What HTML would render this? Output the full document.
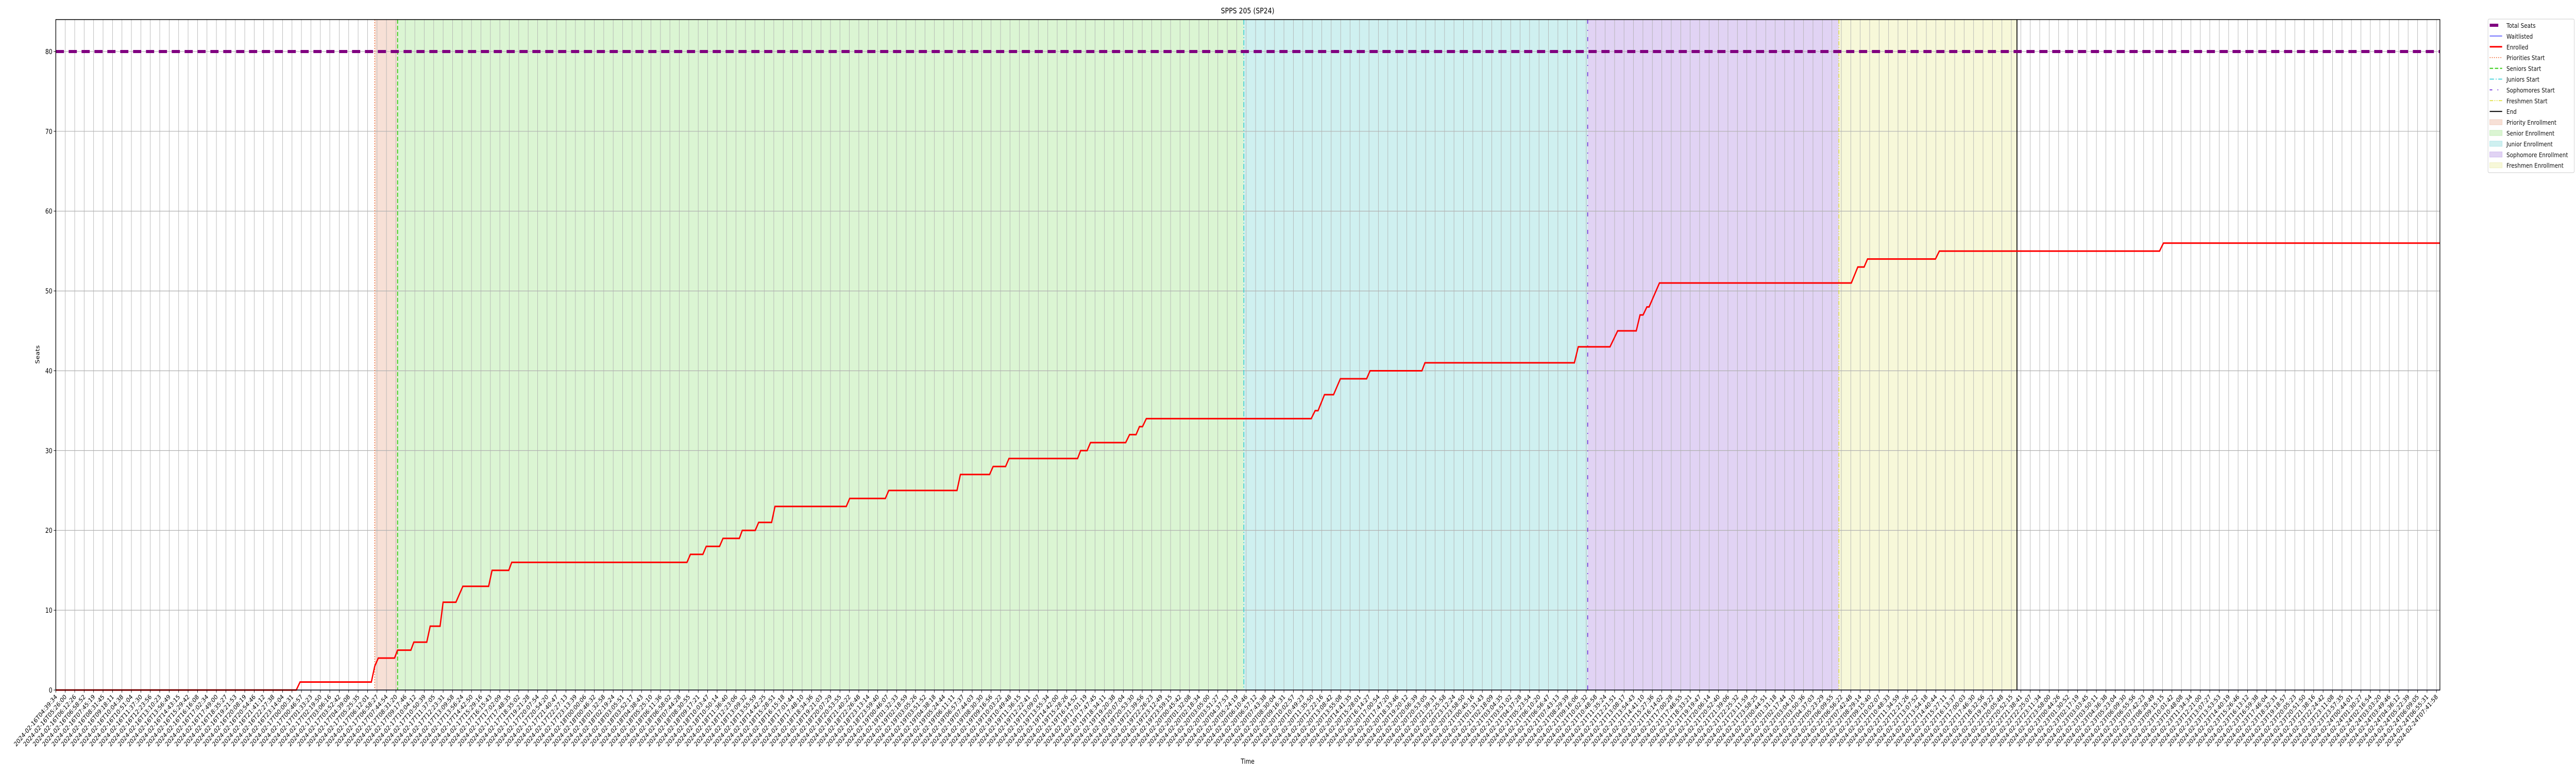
<!DOCTYPE html>
<html><head><meta charset="utf-8"><style>
html,body{margin:0;padding:0;background:#fff;width:100%;height:100%;overflow:hidden;}
svg{display:block;position:absolute;left:0;top:0;width:100vw;height:100vh;font-family:"DejaVu Sans","Liberation Sans",sans-serif;overflow:hidden;}
</style></head><body>
<svg id="chart" viewBox="0 0 6000 1500" preserveAspectRatio="none" xmlns="http://www.w3.org/2000/svg">
<rect width="6000" height="1500" fill="#fff"/>
<g id="bands"></g><g id="grid"></g><g id="events"></g><g id="series"></g><g id="axes"></g>
<text x="2906" y="26" text-anchor="middle" font-size="15">SPPS 205 (SP24)</text>
<text x="2906" y="1482" text-anchor="middle" font-size="13">Time</text>
<text x="92" y="688" text-anchor="middle" font-size="13" transform="rotate(-90 92 688)">Seats</text>
<g id="legend"></g>
</svg>
<script>
// ---- data (x in hours since 2024-02-16T04:39:34) ----
const enrolledT = [0,19.70,20.01,25.85,26.13,26.42,27.75,28.00,29.09,29.33,30.39,30.67,31.48,31.73,32.78,33.35,35.46,35.74,37.11,37.35,51.71,51.99,53.01,53.29,54.38,54.66,56.00,56.24,57.30,57.58,58.64,58.92,64.76,65.04,67.96,68.24,73.83,74.11,76.50,76.79,77.81,78.09,83.71,83.96,84.49,84.77,87.65,87.97,88.50,88.78,89.03,89.34,102.85,103.17,103.41,103.94,104.68,105.24,107.39,107.67,111.92,112.17,124.41,124.73,127.33,127.96,129.48,129.79,130.04,130.35,130.53,131.38,147.10,147.63,148.15,148.43,153.99,154.31,172.35,172.67,195.32];
const enrolledV = [0,0,1,1,3,4,4,5,5,6,6,8,8,11,11,13,13,15,15,16,16,17,17,18,18,19,19,20,20,21,21,23,23,24,24,25,25,27,27,28,28,29,29,30,30,31,31,32,32,33,33,34,34,35,35,37,37,39,39,40,40,41,41,43,43,45,45,47,47,48,48,51,51,53,53,54,54,55,55,56,56];
const totalSeats = 80;
const waitlisted = 0;
const eventNames = ["Priorities Start","Seniors Start","Juniors Start","Sophomores Start","Freshmen Start","End"];
const eventTimes = [26.13,28.00,97.33,125.50,146.08,160.67];
const yTicks = [0,10,20,30,40,50,60,70,80];
const tickStart = "2024-02-16T04:39:34";
const tickCount = 253;
const tickSpanHours = 195.04;
const xMaxHours = 195.32;
const yMax = 84;

// ---- scales ----
const L=130,R=5683,T=38,B=1339;
const X=h=>L+h/xMaxHours*(R-L);
const Y=v=>B-v/yMax*(B-T);
const NS="http://www.w3.org/2000/svg";
function mk(tag,attrs,parent){const e=document.createElementNS(NS,tag);for(const k in attrs)e.setAttribute(k,attrs[k]);parent.appendChild(e);return e;}
const bands=document.getElementById('bands'),grid=document.getElementById('grid'),ev=document.getElementById('events'),ser=document.getElementById('series'),ax=document.getElementById('axes'),lg=document.getElementById('legend');

// bands
const bandCols=["#f7e0d6","#dbf5d3","#cff0f0","#e1d3f4","#f7f8d9"];
const bandNames=["priority-band","senior-band","junior-band","sophomore-band","freshmen-band"];
for(let i=0;i<5;i++){
  const r=mk('rect',{x:X(eventTimes[i]),y:T,width:X(eventTimes[i+1])-X(eventTimes[i]),height:B-T,fill:bandCols[i]},bands);
  
  
}

// ticks
const t0=new Date(tickStart+"Z").getTime();
const pad=n=>String(n).padStart(2,'0');
for(let i=0;i<tickCount;i++){
  const h=i*tickSpanHours/(tickCount-1);
  const x=X(h);
  const gl=mk('line',{x1:x,x2:x,y1:T,y2:B,stroke:"#b0b0b0","stroke-width":1},grid);
  
  
  mk('line',{x1:x,x2:x,y1:B,y2:B+5,stroke:"#000","stroke-width":1},ax);
  const d=new Date(t0+h*3600000);
  const s=d.getUTCFullYear()+"-"+pad(d.getUTCMonth()+1)+"-"+pad(d.getUTCDate())+"T"+pad(d.getUTCHours())+":"+pad(d.getUTCMinutes())+":"+pad(d.getUTCSeconds());
  const tx=mk('text',{x:x+4,y:B+14,"text-anchor":"end","font-size":"12.5",transform:`rotate(-45 ${x+4} ${B+14})`},ax);
  tx.textContent=s;
  
  
}
yTicks.forEach(v=>{
  const y=Y(v);
  const gl=mk('line',{x1:L,x2:R,y1:y,y2:y,stroke:"#b0b0b0","stroke-width":1.2},grid);
  
  
  mk('line',{x1:L-5,x2:L,y1:y,y2:y,stroke:"#000","stroke-width":1},ax);
  const tx=mk('text',{x:L-8,y:y+5,"text-anchor":"end","font-size":"13"},ax);
  tx.textContent=v;
  
  
});

// event lines
const evStyles=[
 {stroke:"#f0642c",dash:"2,3",w:1.6},
 {stroke:"#33cc11",dash:"8,4",w:2},
 {stroke:"#1ecad3",dash:"10,4,2,4",w:1.6},
 {stroke:"#6a2ad8",dash:"8,12,2,12",w:1.8},
 {stroke:"#dddd33",dash:"8,3,2,3,2,3",w:1.6},
 {stroke:"#000",dash:"",w:2}];
eventTimes.forEach((t,i)=>{
  const l=mk('line',{x1:X(t),x2:X(t),y1:T,y2:B,stroke:evStyles[i].stroke,"stroke-width":evStyles[i].w,"stroke-dasharray":evStyles[i].dash},ev);
  
  
});

// series
const ts=mk('line',{x1:L,x2:R,y1:Y(totalSeats),y2:Y(totalSeats),stroke:"#800080","stroke-width":6,"stroke-dasharray":"19,11"},ser);


const wl=mk('line',{x1:L,x2:R,y1:Y(waitlisted),y2:Y(waitlisted),stroke:"#8888ff","stroke-width":1.5},ser);


let d=enrolledT.map((t,i)=>(i?"L":"M")+X(t).toFixed(1)+","+Y(enrolledV[i]).toFixed(1)).join(" ");
const en=mk('path',{d:d,fill:"none",stroke:"#ff0000","stroke-width":3,"stroke-linejoin":"miter"},ser);



// frame
const fr=mk('rect',{x:L,y:T,width:R-L,height:B-T,fill:"none",stroke:"#000","stroke-width":1.5},ax);



// legend
const lx=5795,ly=37;
mk('rect',{x:lx,y:ly,width:201,height:298,rx:3,fill:"#fff",stroke:"#cccccc","stroke-width":1},lg);
const items=[
 ["Total Seats","line","#800080","",6,"19,0"],
 ["Waitlisted","line","#2222ff","",1.2,""],
 ["Enrolled","line","#ff0000","",3,""],
 ["Priorities Start","line","#f0642c","",1.6,"2,3"],
 ["Seniors Start","line","#33cc11","",2,"8,4"],
 ["Juniors Start","line","#1ecad3","",1.6,"10,4,2,4"],
 ["Sophomores Start","line","#6a2ad8","",1.8,"6,12,2,12"],
 ["Freshmen Start","line","#dddd33","",1.6,"8,3,2,3,2,3"],
 ["End","line","#000","",2,""],
 ["Priority Enrollment","patch","#f7e0d6","#f0cfc0"],
 ["Senior Enrollment","patch","#dbf5d3","#c6ecbb"],
 ["Junior Enrollment","patch","#cff0f0","#b5e6e9"],
 ["Sophomore Enrollment","patch","#e1d3f4","#cfbcee"],
 ["Freshmen Enrollment","patch","#f7f8d9","#eef0c0"]];
items.forEach((it,i)=>{
  const y=ly+12+i*20.9;
  const g=mk('g',{},lg);
  
  
  if(it[1]==="line"){
    const w=i===0?20:29;
    mk('line',{x1:lx+4,x2:lx+4+w,y1:y,y2:y,stroke:it[2],"stroke-width":it[4],"stroke-dasharray":it[5]},g);
  } else {
    mk('rect',{x:lx+4,y:y-5,width:29,height:10,fill:it[2],stroke:it[3],"stroke-width":1},g);
  }
  const tx=mk('text',{x:lx+43,y:y+5,"font-size":"12.5",fill:"#111"},g);
  tx.textContent=it[0];
});
</script>
</body></html>
